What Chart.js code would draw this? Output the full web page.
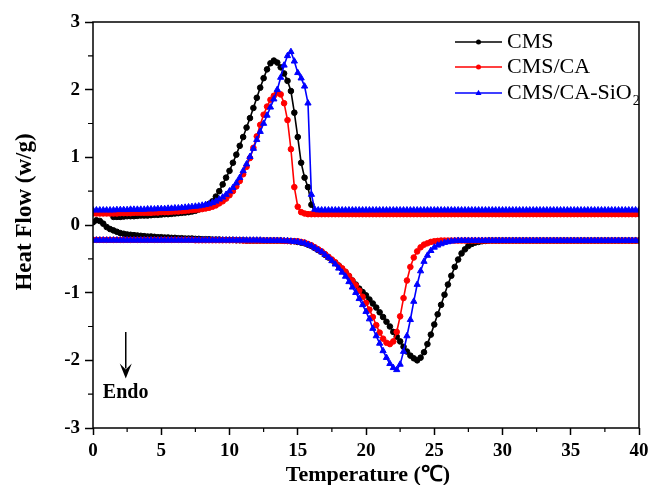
<!DOCTYPE html>
<html>
<head>
<meta charset="utf-8">
<title>DSC curves</title>
<script src="https://cdn.jsdelivr.net/npm/chart.js@4.4.0/dist/chart.umd.min.js"></script>
<style>
  html, body { margin: 0; padding: 0; background: #fff; }
  #chart { display: block; }
</style>
</head>
<body>
<canvas id="chart" width="654" height="485"></canvas>
<script>
// Temperature grid (°C), one sample every 0.25 °C
const temps = [
  0, 0.25, 0.5, 0.75, 1, 1.25, 1.5, 1.75, 2, 2.25, 2.5, 2.75, 3, 3.25, 3.5, 3.75, 4, 4.25, 4.5, 4.75,
  5, 5.25, 5.5, 5.75, 6, 6.25, 6.5, 6.75, 7, 7.25, 7.5, 7.75, 8, 8.25, 8.5, 8.75, 9, 9.25, 9.5, 9.75,
  10, 10.25, 10.5, 10.75, 11, 11.25, 11.5, 11.75, 12, 12.25, 12.5, 12.75, 13, 13.25, 13.5, 13.75, 14, 14.25, 14.5, 14.75,
  15, 15.25, 15.5, 15.75, 16, 16.25, 16.5, 16.75, 17, 17.25, 17.5, 17.75, 18, 18.25, 18.5, 18.75, 19, 19.25, 19.5, 19.75,
  20, 20.25, 20.5, 20.75, 21, 21.25, 21.5, 21.75, 22, 22.25, 22.5, 22.75, 23, 23.25, 23.5, 23.75, 24, 24.25, 24.5, 24.75,
  25, 25.25, 25.5, 25.75, 26, 26.25, 26.5, 26.75, 27, 27.25, 27.5, 27.75, 28, 28.25, 28.5, 28.75, 29, 29.25, 29.5, 29.75,
  30, 30.25, 30.5, 30.75, 31, 31.25, 31.5, 31.75, 32, 32.25, 32.5, 32.75, 33, 33.25, 33.5, 33.75, 34, 34.25, 34.5, 34.75,
  35, 35.25, 35.5, 35.75, 36, 36.25, 36.5, 36.75, 37, 37.25, 37.5, 37.75, 38, 38.25, 38.5, 38.75, 39, 39.25, 39.5, 39.75,
  40
];

// Cooling runs (exothermic peaks, upper curves), heat flow in W/g
const cmsCool = [
  null, null, null, null, null, null, 0.12, 0.12, 0.12, 0.125, 0.13, 0.13, 0.13, 0.135, 0.14, 0.14, 0.14, 0.145, 0.15, 0.15,
  0.155, 0.16, 0.16, 0.165, 0.17, 0.175, 0.18, 0.185, 0.19, 0.2, 0.21, 0.23, 0.25, 0.28, 0.31, 0.35, 0.42, 0.5, 0.6, 0.7,
  0.8, 0.92, 1.04, 1.17, 1.3, 1.44, 1.58, 1.73, 1.88, 2.03, 2.17, 2.3, 2.39, 2.43, 2.4, 2.33, 2.24, 2.13, 1.98, 1.66,
  1.3, 0.92, 0.7, 0.56, 0.3, 0.19, 0.19, 0.19, 0.19, 0.19, 0.19, 0.19, 0.19, 0.19, 0.19, 0.19, 0.19, 0.19, 0.19, 0.19,
  0.19, 0.19, 0.19, 0.19, 0.19, 0.19, 0.19, 0.19, 0.19, 0.19, 0.19, 0.19, 0.19, 0.19, 0.19, 0.19, 0.19, 0.19, 0.19, 0.19,
  0.19, 0.19, 0.19, 0.19, 0.19, 0.19, 0.19, 0.19, 0.19, 0.19, 0.19, 0.19, 0.19, 0.19, 0.19, 0.19, 0.19, 0.19, 0.19, 0.19,
  0.19, 0.19, 0.19, 0.19, 0.19, 0.19, 0.19, 0.19, 0.19, 0.19, 0.19, 0.19, 0.19, 0.19, 0.19, 0.19, 0.19, 0.19, 0.19, 0.19,
  0.19, 0.19, 0.19, 0.19, 0.19, 0.19, 0.19, 0.19, 0.19, 0.19, 0.19, 0.19, 0.19, 0.19, 0.19, 0.19, 0.19, 0.19, 0.19, 0.19,
  0.19
];
const cmsCaCool = [
  0.17, 0.17, 0.17, 0.17, 0.17, 0.17, 0.17, 0.17, 0.175, 0.175, 0.175, 0.175, 0.18, 0.18, 0.18, 0.18, 0.18, 0.18, 0.185, 0.185,
  0.19, 0.19, 0.19, 0.195, 0.2, 0.2, 0.205, 0.21, 0.215, 0.22, 0.225, 0.23, 0.235, 0.245, 0.255, 0.27, 0.29, 0.32, 0.35, 0.39,
  0.44, 0.5, 0.57, 0.65, 0.75, 0.86, 0.99, 1.14, 1.31, 1.48, 1.63, 1.75, 1.85, 1.91, 1.95, 1.93, 1.8, 1.55, 1.12, 0.56,
  0.27, 0.19, 0.17, 0.16, 0.16, 0.16, 0.16, 0.16, 0.16, 0.16, 0.16, 0.16, 0.16, 0.16, 0.16, 0.16, 0.16, 0.16, 0.16, 0.16,
  0.16, 0.16, 0.16, 0.16, 0.16, 0.16, 0.16, 0.16, 0.16, 0.16, 0.16, 0.16, 0.16, 0.16, 0.16, 0.16, 0.16, 0.16, 0.16, 0.16,
  0.16, 0.16, 0.16, 0.16, 0.16, 0.16, 0.16, 0.16, 0.16, 0.16, 0.16, 0.16, 0.16, 0.16, 0.16, 0.16, 0.16, 0.16, 0.16, 0.16,
  0.16, 0.16, 0.16, 0.16, 0.16, 0.16, 0.16, 0.16, 0.16, 0.16, 0.16, 0.16, 0.16, 0.16, 0.16, 0.16, 0.16, 0.16, 0.16, 0.16,
  0.16, 0.16, 0.16, 0.16, 0.16, 0.16, 0.16, 0.16, 0.16, 0.16, 0.16, 0.16, 0.16, 0.16, 0.16, 0.16, 0.16, 0.16, 0.16, 0.16,
  0.16
];
const sio2Cool = [
  0.22, 0.22, 0.22, 0.22, 0.22, 0.22, 0.22, 0.225, 0.225, 0.225, 0.225, 0.23, 0.23, 0.23, 0.23, 0.23, 0.235, 0.235, 0.235, 0.24,
  0.24, 0.24, 0.245, 0.245, 0.25, 0.25, 0.255, 0.26, 0.265, 0.27, 0.275, 0.28, 0.29, 0.3, 0.31, 0.33, 0.35, 0.38, 0.41, 0.45,
  0.5, 0.55, 0.62, 0.7, 0.8, 0.9, 1.01, 1.13, 1.26, 1.38, 1.5, 1.62, 1.74, 1.86, 2.0, 2.18, 2.36, 2.5, 2.56, 2.42,
  2.25, 2.17, 2.05, 1.8, 0.45, 0.23, 0.22, 0.22, 0.22, 0.22, 0.22, 0.22, 0.22, 0.22, 0.22, 0.22, 0.22, 0.22, 0.22, 0.22,
  0.22, 0.22, 0.22, 0.22, 0.22, 0.22, 0.22, 0.22, 0.22, 0.22, 0.22, 0.22, 0.22, 0.22, 0.22, 0.22, 0.22, 0.22, 0.22, 0.22,
  0.22, 0.22, 0.22, 0.22, 0.22, 0.22, 0.22, 0.22, 0.22, 0.22, 0.22, 0.22, 0.22, 0.22, 0.22, 0.22, 0.22, 0.22, 0.22, 0.22,
  0.22, 0.22, 0.22, 0.22, 0.22, 0.22, 0.22, 0.22, 0.22, 0.22, 0.22, 0.22, 0.22, 0.22, 0.22, 0.22, 0.22, 0.22, 0.22, 0.22,
  0.22, 0.22, 0.22, 0.22, 0.22, 0.22, 0.22, 0.22, 0.22, 0.22, 0.22, 0.22, 0.22, 0.22, 0.22, 0.22, 0.22, 0.22, 0.22, 0.22,
  0.22
];

// Heating runs (endothermic valleys, lower curves)
const cmsHeat = [
  0.04, 0.07, 0.06, 0.02, -0.03, -0.06, -0.08, -0.1, -0.12, -0.13, -0.14, -0.145, -0.15, -0.155, -0.16, -0.165, -0.17, -0.17, -0.175, -0.18,
  -0.18, -0.185, -0.185, -0.19, -0.19, -0.195, -0.195, -0.2, -0.2, -0.2, -0.205, -0.205, -0.21, -0.21, -0.21, -0.215, -0.215, -0.215, -0.22, -0.22,
  -0.22, -0.22, -0.225, -0.225, -0.225, -0.23, -0.23, -0.23, -0.23, -0.23, -0.23, -0.23, -0.23, -0.23, -0.23, -0.23, -0.235, -0.235, -0.24, -0.24,
  -0.25, -0.26, -0.27, -0.29, -0.31, -0.34, -0.37, -0.4, -0.44, -0.48, -0.52, -0.56, -0.6, -0.65, -0.7, -0.76, -0.82, -0.88, -0.94, -0.99,
  -1.04, -1.1, -1.16, -1.22, -1.29, -1.36, -1.43, -1.5, -1.58, -1.65, -1.72, -1.8, -1.87, -1.93, -1.97, -2.0, -1.96, -1.88, -1.76, -1.62,
  -1.47, -1.32, -1.18, -1.03, -0.88, -0.75, -0.62, -0.51, -0.42, -0.36, -0.31, -0.28, -0.26, -0.25, -0.24, -0.235, -0.23, -0.23, -0.23, -0.23,
  -0.23, -0.23, -0.23, -0.23, -0.23, -0.23, -0.23, -0.23, -0.23, -0.23, -0.23, -0.23, -0.23, -0.23, -0.23, -0.23, -0.23, -0.23, -0.23, -0.23,
  -0.23, -0.23, -0.23, -0.23, -0.23, -0.23, -0.23, -0.23, -0.23, -0.23, -0.23, -0.23, -0.23, -0.23, -0.23, -0.23, -0.23, -0.23, -0.23, -0.23,
  -0.23
];
const cmsCaHeat = [
  -0.22, -0.22, -0.22, -0.22, -0.22, -0.22, -0.22, -0.22, -0.22, -0.22, -0.22, -0.22, -0.22, -0.22, -0.22, -0.22, -0.22, -0.22, -0.22, -0.22,
  -0.22, -0.22, -0.22, -0.22, -0.22, -0.22, -0.22, -0.22, -0.22, -0.22, -0.225, -0.225, -0.225, -0.225, -0.225, -0.225, -0.225, -0.225, -0.225, -0.225,
  -0.225, -0.225, -0.225, -0.225, -0.23, -0.23, -0.23, -0.23, -0.23, -0.23, -0.23, -0.23, -0.23, -0.23, -0.23, -0.23, -0.235, -0.235, -0.24, -0.24,
  -0.24, -0.25, -0.26, -0.28, -0.3, -0.33, -0.36, -0.39, -0.43, -0.47, -0.51, -0.55, -0.6, -0.64, -0.69, -0.75, -0.82, -0.89, -0.97, -1.06,
  -1.15, -1.25, -1.36, -1.48, -1.59, -1.68, -1.74, -1.76, -1.72, -1.58, -1.35, -1.08, -0.82, -0.62, -0.48, -0.39, -0.33, -0.29, -0.27, -0.25,
  -0.24, -0.235, -0.23, -0.23, -0.23, -0.23, -0.23, -0.23, -0.23, -0.23, -0.23, -0.23, -0.23, -0.23, -0.23, -0.23, -0.23, -0.23, -0.23, -0.23,
  -0.23, -0.23, -0.23, -0.23, -0.23, -0.23, -0.23, -0.23, -0.23, -0.23, -0.23, -0.23, -0.23, -0.23, -0.23, -0.23, -0.23, -0.23, -0.23, -0.23,
  -0.23, -0.23, -0.23, -0.23, -0.23, -0.23, -0.23, -0.23, -0.23, -0.23, -0.23, -0.23, -0.23, -0.23, -0.23, -0.23, -0.23, -0.23, -0.23, -0.23,
  -0.23
];
const sio2Heat = [
  -0.225, -0.225, -0.225, -0.225, -0.225, -0.225, -0.225, -0.225, -0.225, -0.225, -0.225, -0.225, -0.225, -0.225, -0.225, -0.225, -0.225, -0.225, -0.225, -0.225,
  -0.225, -0.225, -0.225, -0.225, -0.225, -0.225, -0.225, -0.225, -0.225, -0.225, -0.225, -0.225, -0.225, -0.225, -0.225, -0.225, -0.225, -0.225, -0.225, -0.225,
  -0.225, -0.225, -0.225, -0.225, -0.225, -0.225, -0.225, -0.225, -0.225, -0.225, -0.23, -0.23, -0.23, -0.23, -0.23, -0.23, -0.235, -0.235, -0.24, -0.245,
  -0.25, -0.26, -0.27, -0.29, -0.31, -0.34, -0.37, -0.4, -0.44, -0.48, -0.53, -0.58, -0.64, -0.7, -0.76, -0.84, -0.92, -1.0, -1.09, -1.18,
  -1.28, -1.39, -1.53, -1.64, -1.75, -1.86, -1.96, -2.05, -2.11, -2.14, -2.06, -1.87, -1.64, -1.4, -1.13, -0.88, -0.68, -0.54, -0.45, -0.38,
  -0.33, -0.3, -0.28, -0.26, -0.25, -0.24, -0.235, -0.23, -0.23, -0.23, -0.23, -0.23, -0.23, -0.23, -0.23, -0.23, -0.23, -0.23, -0.23, -0.23,
  -0.23, -0.23, -0.23, -0.23, -0.23, -0.23, -0.23, -0.23, -0.23, -0.23, -0.23, -0.23, -0.23, -0.23, -0.23, -0.23, -0.23, -0.23, -0.23, -0.23,
  -0.23, -0.23, -0.23, -0.23, -0.23, -0.23, -0.23, -0.23, -0.23, -0.23, -0.23, -0.23, -0.23, -0.23, -0.23, -0.23, -0.23, -0.23, -0.23, -0.23,
  -0.23
];

// Axis ticks
const xTicks = [0, 5, 10, 15, 20, 25, 30, 35, 40];
const yTicks = [-3, -2, -1, 0, 1, 2, 3];

const serif = "'Liberation Serif', 'Times New Roman', Times, serif";

const series = [
  { label: 'CMS', color: '#000000', point: 'circle', radius: 2.8, cool: cmsCool, heat: cmsHeat, order: 3 },
  { label: 'CMS/CA', color: '#ff0000', point: 'circle', radius: 2.8, cool: cmsCaCool, heat: cmsCaHeat, order: 2 },
  { label: 'CMS/CA-SiO', sub: '2', color: '#0000ff', point: 'triangle', radius: 3.6, cool: sio2Cool, heat: sio2Heat, order: 1 }
];

function toPoints(values) {
  return temps.map((t, i) => ({ x: t, y: values[i] })).filter(p => p.y !== null);
}

function makeDataset(s, values) {
  return {
    label: s.label,
    data: toPoints(values),
    borderColor: s.color,
    backgroundColor: s.color,
    borderWidth: 1.6,
    pointStyle: s.point,
    pointRadius: s.radius,
    pointBorderWidth: 1,
    pointBackgroundColor: s.color,
    pointBorderColor: s.color,
    showLine: true,
    tension: 0,
    order: s.order
  };
}

const datasets = [];
series.forEach(s => {
  datasets.push(makeDataset(s, s.cool));
  datasets.push(makeDataset(s, s.heat));
});

function drawMarker(ctx, style, x, y, r, color) {
  ctx.fillStyle = color;
  ctx.beginPath();
  if (style === 'triangle') {
    ctx.moveTo(x, y - r * 1.1);
    ctx.lineTo(x + r, y + r * 0.7);
    ctx.lineTo(x - r, y + r * 0.7);
    ctx.closePath();
  } else {
    ctx.arc(x, y, r, 0, Math.PI * 2);
  }
  ctx.fill();
}

// Frame, minor ticks, legend, axis titles and the Endo arrow
const decorations = {
  id: 'decorations',
  afterDraw(chart) {
    const { ctx, chartArea: a, scales } = chart;
    const xs = scales.x, ys = scales.y;
    ctx.save();

    // plot frame
    ctx.strokeStyle = '#000';
    ctx.lineWidth = 1.5;
    ctx.strokeRect(a.left, a.top, a.right - a.left, a.bottom - a.top);

    // minor ticks
    ctx.lineWidth = 1.2;
    ctx.beginPath();
    for (let i = 0; i < xTicks.length - 1; i++) {
      const px = xs.getPixelForValue((xTicks[i] + xTicks[i + 1]) / 2);
      ctx.moveTo(px, a.bottom);
      ctx.lineTo(px, a.bottom + 4);
    }
    for (let i = 0; i < yTicks.length - 1; i++) {
      const py = ys.getPixelForValue((yTicks[i] + yTicks[i + 1]) / 2);
      ctx.moveTo(a.left, py);
      ctx.lineTo(a.left - 5, py);
    }
    ctx.stroke();

    // legend: line with a marker, then the label
    const legendY = [42, 67, 93];
    series.forEach((s, i) => {
      const y = legendY[i];
      ctx.strokeStyle = s.color;
      ctx.lineWidth = 1.5;
      ctx.beginPath();
      ctx.moveTo(455, y);
      ctx.lineTo(502, y);
      ctx.stroke();
      drawMarker(ctx, s.point, 478.5, y, s.point === 'triangle' ? 3 : 2.5, s.color);

      ctx.fillStyle = '#000';
      ctx.font = '22px ' + serif;
      ctx.textAlign = 'left';
      ctx.textBaseline = 'middle';
      ctx.fillText(s.label, 507, y);
      if (s.sub) {
        const w = ctx.measureText(s.label).width;
        ctx.font = '14px ' + serif;
        ctx.fillText(s.sub, 507 + w + 1, y + 8);
      }
    });

    // axis titles
    ctx.fillStyle = '#000';
    ctx.font = 'bold 22px ' + serif;
    ctx.textAlign = 'center';
    ctx.textBaseline = 'alphabetic';
    ctx.fillText('Temperature (\u2103)', (a.left + a.right) / 2 + 2, 481);

    ctx.save();
    ctx.translate(25, 212);
    ctx.rotate(-Math.PI / 2);
    ctx.font = 'bold 23px ' + serif;
    ctx.textBaseline = 'middle';
    ctx.fillText('Heat Flow (w/g)', 0, 0);
    ctx.restore();

    // Endo arrow
    const ax = xs.getPixelForValue(2.4);
    const aTop = ys.getPixelForValue(-1.58);
    const aTip = ys.getPixelForValue(-2.27);
    ctx.strokeStyle = '#000';
    ctx.lineWidth = 1.5;
    ctx.beginPath();
    ctx.moveTo(ax, aTop);
    ctx.lineTo(ax, aTip - 10);
    ctx.stroke();
    ctx.fillStyle = '#000';
    ctx.beginPath();
    ctx.moveTo(ax - 6, aTip - 15);
    ctx.lineTo(ax, aTip - 9);
    ctx.lineTo(ax + 6, aTip - 15);
    ctx.lineTo(ax, aTip);
    ctx.closePath();
    ctx.fill();

    ctx.font = 'bold 20px ' + serif;
    ctx.textAlign = 'left';
    ctx.textBaseline = 'alphabetic';
    ctx.fillText('Endo', xs.getPixelForValue(0.72), ys.getPixelForValue(-2.55));

    ctx.restore();
  }
};

new Chart(document.getElementById('chart'), {
  type: 'scatter',
  data: { datasets },
  options: {
    responsive: false,
    animation: false,
    devicePixelRatio: 1,
    layout: { padding: { top: 22, right: 15, left: 0, bottom: 0 } },
    plugins: {
      legend: { display: false },
      tooltip: { enabled: false }
    },
    scales: {
      x: {
        type: 'linear',
        min: xTicks[0],
        max: xTicks[xTicks.length - 1],
        afterBuildTicks: scale => { scale.ticks = xTicks.map(v => ({ value: v })); },
        ticks: {
          color: '#000',
          padding: 5,
          maxRotation: 0,
          autoSkip: false,
          font: { family: serif, size: 19, weight: 'bold' }
        },
        grid: { drawOnChartArea: false, tickLength: 7, tickColor: '#000', tickWidth: 1.5 },
        border: { display: false },
        afterFit: scale => { scale.height = 57; }
      },
      y: {
        type: 'linear',
        min: yTicks[0],
        max: yTicks[yTicks.length - 1],
        afterBuildTicks: scale => { scale.ticks = yTicks.map(v => ({ value: v })); },
        ticks: {
          color: '#000',
          padding: 5,
          autoSkip: false,
          font: { family: serif, size: 19, weight: 'bold' }
        },
        grid: { drawOnChartArea: false, tickLength: 8, tickColor: '#000', tickWidth: 1.5 },
        border: { display: false },
        afterFit: scale => { scale.width = 93; }
      }
    }
  },
  plugins: [decorations]
});
</script>
</body>
</html>
